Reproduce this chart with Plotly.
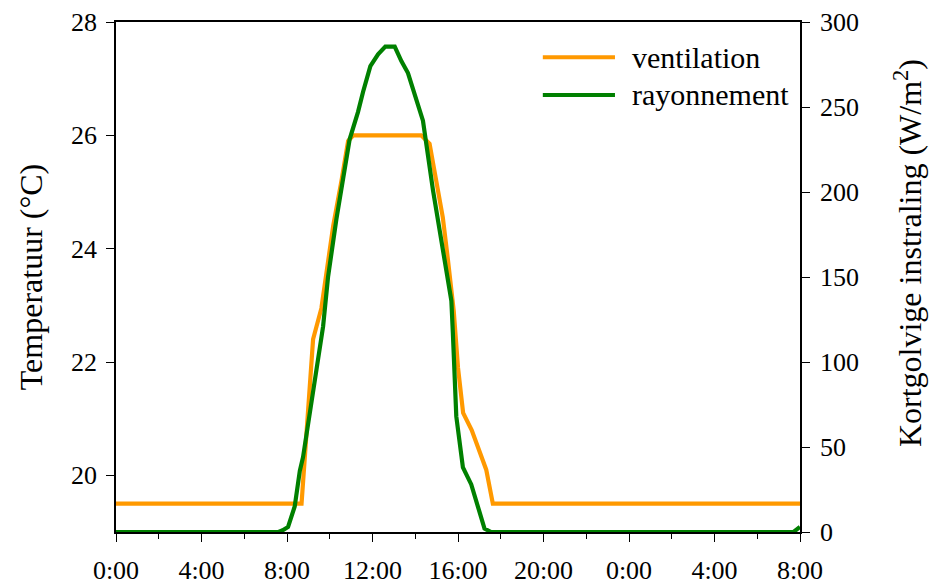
import plotly.graph_objects as go

# Hours since midnight (day 1 00:00 .. day 2 08:00)
vent_hours = [0, 8.68, 8.83, 9.22, 9.61, 9.92, 10.16, 10.55, 10.86, 11.1, 14.28, 14.67,
              14.98, 15.29, 15.53, 15.8, 16.0, 16.24, 16.64, 17.01, 17.32, 17.63, 32]
vent_temp = [19.5, 19.5, 20.3, 22.4, 22.95, 23.75, 24.4, 25.2, 25.9, 26.0, 26.0, 25.85,
             25.2, 24.55, 23.8, 22.9, 21.9, 21.1, 20.8, 20.4, 20.1, 19.5, 19.5]

rad_hours = [0, 7.6, 7.8, 8.05, 8.36, 8.6, 8.75, 9.22, 9.69, 9.92, 10.31, 10.93, 11.32,
             11.56, 11.9, 12.26, 12.6, 13.04, 13.35, 13.66, 13.97, 14.36, 14.83, 15.45,
             15.69, 15.76, 15.84, 15.92, 16.23, 16.62, 17.24, 17.55, 31.7, 32]
rad_values = [0, 0, 1, 3, 15, 36, 44, 83, 121, 150, 184, 231, 247, 259, 274, 281, 285.5,
              285.5, 277, 270, 258, 242, 201, 156, 136, 117, 88, 68, 38, 28, 2, 0, 0, 3]

tick_hours = [0, 4, 8, 12, 16, 20, 24, 28, 32]
tick_labels = ["0:00", "4:00", "8:00", "12:00", "16:00", "20:00", "0:00", "4:00", "8:00"]

legend_names = ["ventilation", "rayonnement"]
orange = "#FF9900"
green = "#008000"
serif = "Liberation Serif"

fig = go.Figure()
fig.add_trace(go.Scatter(x=vent_hours, y=vent_temp, mode="lines", name=legend_names[0],
                         line=dict(color=orange, width=4.2), showlegend=False))
fig.add_trace(go.Scatter(x=rad_hours, y=rad_values, mode="lines", name=legend_names[1],
                         line=dict(color=green, width=4.2), yaxis="y2", showlegend=False))

# Legend keys drawn as long line samples with labels
for i, (name, col) in enumerate(zip(legend_names, [orange, green])):
    ypos = 0.931 - i * 0.074
    fig.add_shape(type="line", xref="paper", yref="paper", x0=0.624, x1=0.7295,
                  y0=ypos, y1=ypos, line=dict(color=col, width=4))
    fig.add_annotation(xref="paper", yref="paper", x=0.752, y=ypos, text=name,
                       showarrow=False, xanchor="left", yanchor="middle",
                       font=dict(family=serif, size=30, color="black"))

# Right-hand axis title, placed slightly above the axis centre
fig.add_annotation(xref="paper", yref="paper", x=1.158, y=0.547,
                   text="Kortgolvige instraling (W/m<sup>2</sup>)", textangle=-90,
                   showarrow=False, xanchor="center", yanchor="middle",
                   font=dict(family=serif, size=32, color="black"))

axis_common = dict(showline=True, linecolor="black", linewidth=1.5, ticks="outside",
                   ticklen=8, tickcolor="black", showgrid=False, zeroline=False,
                   automargin=False,
                   tickfont=dict(family=serif, size=26, color="black"))

fig.update_layout(
    width=936, height=586,
    margin=dict(l=116, r=136, t=22, b=54, autoexpand=False),
    paper_bgcolor="white", plot_bgcolor="white",
    font=dict(family=serif, color="black"),
    xaxis=dict(range=[0, 32], tickvals=tick_hours, ticktext=tick_labels, mirror=True,
               minor=dict(dtick=2, tick0=0, ticks="outside", ticklen=5, tickcolor="black"),
               ticklabelstandoff=6, **axis_common),
    yaxis=dict(range=[19, 28], tickvals=[20, 22, 24, 26, 28], ticklabelstandoff=4,
               title=dict(text="Temperatuur (°C)", standoff=19,
                          font=dict(family=serif, size=32, color="black")),
               **axis_common),
    yaxis2=dict(range=[0, 300], tickvals=[0, 50, 100, 150, 200, 250, 300], overlaying="y",
                side="right", ticklabelstandoff=5, **axis_common),
)

fig.write_html("out.html")
